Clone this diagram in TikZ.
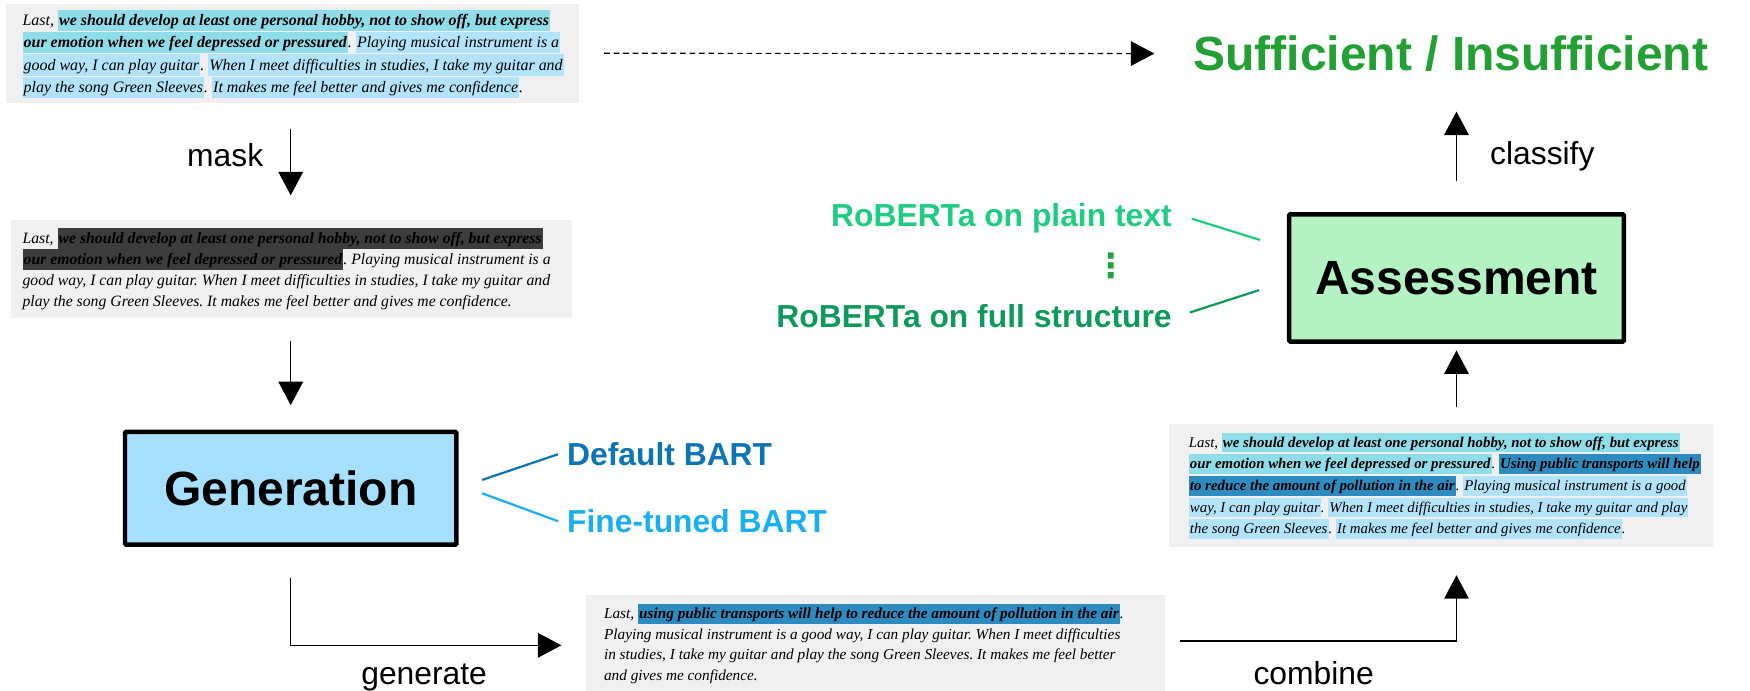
\documentclass[tikz,border=0pt]{standalone}
\usepackage{fontspec}
\setmainfont{Liberation Serif}
\newfontfamily\labelsf{Liberation Sans}
\newfontfamily\symfont{DejaVu Sans}
\usetikzlibrary{arrows.meta}
\frenchspacing

\definecolor{boxgray}{HTML}{F0F0F0}
\definecolor{hlA}{HTML}{8EDDE8}
\definecolor{hlB}{HTML}{B3E3FA}
\definecolor{hlC}{HTML}{2E8BC0}
\definecolor{maskgray}{HTML}{3C3C3C}
\definecolor{genfill}{HTML}{A6E0FC}
\definecolor{assessfill}{HTML}{B5F2C3}
\definecolor{defbart}{HTML}{0D75B5}
\definecolor{finebart}{HTML}{1AAFF5}
\definecolor{robplain}{HTML}{1ECC82}
\definecolor{robfull}{HTML}{0E9A5A}
\definecolor{dotgreen}{HTML}{24A046}
\definecolor{verdict}{HTML}{22A034}

% highlighted span of essay text
\newcommand\hl[2]{{\setlength{\fboxsep}{0pt}\colorbox{#1}{\rule[-0.34em]{0pt}{1.33em}\kern1pt#2\kern1pt}}}
\newcommand\keyfont{\bfseries\itshape}

\begin{document}
\begin{tikzpicture}[x=1pt,y=-1pt,
  tbox/.style={fill=boxgray, draw=none, anchor=north west, inner sep=0pt},
  body/.style={align=left, anchor=west, inner sep=0pt},
  stage/.style={draw=black, line width=4pt, rounded corners=1pt, inner sep=0pt,
    font=\labelsf\bfseries\fontsize{43}{50}\selectfont},
  flow/.style={line width=1.3pt, -{Triangle[width=22pt,length=21pt]}},
  lbl/.style={font=\labelsf\fontsize{28.5}{32}\selectfont, inner sep=0pt},
  model/.style={font=\labelsf\bfseries\fontsize{28.5}{32}\selectfont, inner sep=0pt}]
\useasboundingbox (0,0) rectangle (1568,619);

% essay boxes
\node[tbox, minimum width=514pt, minimum height=89pt] (box1) at (5,3) {};
\node[body, font=\fontsize{14.3}{20}\selectfont\itshape] (t1) at ([xshift=15pt,yshift=-0.5pt]box1.west) {%
Last, \hl{hlA}{\keyfont we should develop at least one personal hobby, not to show off, but express}\\
\hl{hlA}{\keyfont our emotion when we feel depressed or pressured}. \hl{hlB}{Playing musical instrument is a}\\
\hl{hlB}{good way, I can play guitar}. \hl{hlB}{When I meet difficulties in studies, I take my guitar and}\\
\hl{hlB}{play the song Green Sleeves}. \hl{hlB}{It makes me feel better and gives me confidence}.};

\node[tbox, minimum width=502pt, minimum height=88pt] (box2) at (10,197) {};
\node[body, font=\fontsize{14.1}{18.8}\selectfont\itshape] (t2) at ([xshift=10pt]box2.west) {%
Last, \hl{maskgray}{\keyfont we should develop at least one personal hobby, not to show off, but express}\\
\hl{maskgray}{\keyfont our emotion when we feel depressed or pressured}. Playing musical instrument is a\\
good way, I can play guitar. When I meet difficulties in studies, I take my guitar and\\
play the song Green Sleeves. It makes me feel better and gives me confidence.};

\node[tbox, minimum width=519pt, minimum height=90pt] (box4) at (525,533) {};
\node[body, font=\fontsize{13.7}{18.4}\selectfont\itshape] (t4) at ([xshift=16pt,yshift=1.5pt]box4.west) {%
Last, \hl{hlC}{\keyfont using public transports will help to reduce the amount of pollution in the air}.\\
Playing musical instrument is a good way, I can play guitar. When I meet difficulties\\
in studies, I take my guitar and play the song Green Sleeves. It makes me feel better\\
and gives me confidence.};

\node[tbox, minimum width=488pt, minimum height=110pt] (box3) at (1047,380) {};
\node[body, font=\fontsize{13.3}{19.4}\selectfont\itshape] (t3) at ([xshift=18pt]box3.west) {%
Last, \hl{hlA}{\keyfont we should develop at least one personal hobby, not to show off, but express}\\
\hl{hlA}{\keyfont our emotion when we feel depressed or pressured}. \hl{hlC}{\keyfont Using public transports will help}\\
\hl{hlC}{\keyfont to reduce the amount of pollution in the air}. \hl{hlB}{Playing musical instrument is a good}\\
\hl{hlB}{way, I can play guitar}. \hl{hlB}{When I meet difficulties in studies, I take my guitar and play}\\
\hl{hlB}{the song Green Sleeves}. \hl{hlB}{It makes me feel better and gives me confidence}.};

% stages
\node[stage, fill=genfill, minimum width=297pt, minimum height=101pt] (gen) at (260.5,437.5) {Generation};
\node[stage, fill=assessfill, minimum width=300pt, minimum height=114pt] (assess) at (1305,249) {Assessment};

% outcome
\node[font=\labelsf\bfseries\fontsize{43}{50}\selectfont, text=verdict, inner sep=0pt] (suff) at (1300,48) {Sufficient / Insufficient};

% generator variants
\node[model, text=defbart, anchor=west] (def) at (508,407) {Default BART};
\node[model, text=finebart, anchor=west] (fine) at (508,467) {Fine-tuned BART};
\draw[defbart, line width=2pt] ([xshift=21pt,yshift=7.5pt]gen.east) -- ([xshift=-8pt]def.west);
\draw[finebart, line width=2pt] ([xshift=21pt,yshift=-4.5pt]gen.east) -- ([xshift=-8pt]fine.west);

% assessor variants
\node[model, text=robplain, anchor=east] (rob1) at (1050,196) {RoBERTa on plain text};
\node[text=dotgreen, inner sep=0pt, font=\symfont\bfseries\fontsize{30}{32}\selectfont] (dots) at (996,238) {⋮};
\node[model, text=robfull, anchor=east] (rob2) at (1050,283) {RoBERTa on full structure};
\draw[robplain, line width=2pt] ([xshift=18pt]rob1.east) -- ([xshift=-24pt,yshift=34pt]assess.west);
\draw[robfull, line width=2pt] ([xshift=16pt,yshift=3pt]rob2.east) -- ([xshift=-25pt,yshift=-11pt]assess.west);

% flow
\draw[line width=1pt, dash pattern=on 5pt off 3.5pt, -{Triangle[width=22pt,length=21pt]}]
  ([xshift=22pt]box1.east) -- ([xshift=-35pt]suff.west);
\draw[flow, shorten <=23pt, shorten >=22pt] (box1.south -| gen.center) -- (box2.north -| gen.center);
\node[lbl, anchor=east] (mask) at (236,139) {mask};
\draw[flow, shorten <=20pt, shorten >=22pt] (box2.south -| gen.center) -- (gen.north);
\draw[flow, shorten <=28pt, shorten >=22pt] (gen.south) |- (box4.west);
\node[lbl] (generate) at (380,607) {generate};
\draw[flow, shorten >=25pt] ([xshift=13pt,yshift=4pt]box4.east) -| (box3.south -| assess.center);
\node[lbl] (combine) at (1177,603) {combine};
\draw[flow, shorten <=15pt, shorten >=6pt] (box3.north -| assess.center) -- (assess.south);
\coordinate (ctop) at (1305,100);
\draw[flow, shorten <=28pt] (assess.north) -- (ctop);
\node[lbl, anchor=west] (classify) at (1335,140) {classify};
\end{tikzpicture}
\end{document}
